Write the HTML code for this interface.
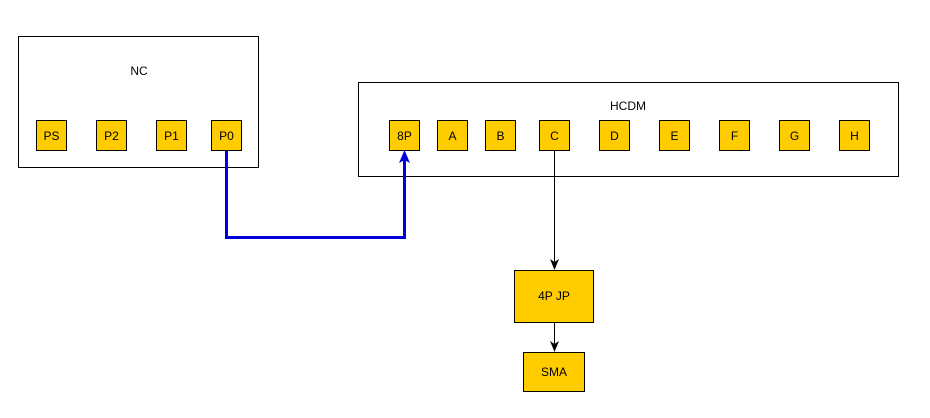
<!DOCTYPE html>
<html><head><meta charset="utf-8"><style>
html,body{margin:0;padding:0;background:#fff;}
svg{display:block;}
text{font-family:"Liberation Sans",Arial,sans-serif;font-size:12px;fill:#000;}
</style></head><body>
<svg width="930" height="418" viewBox="0 0 930 418" xmlns="http://www.w3.org/2000/svg">
<defs>
<marker id="ab" markerWidth="10" markerHeight="10" refX="5" refY="8" orient="auto" markerUnits="userSpaceOnUse" viewBox="0 0 10 10">
</marker>
</defs>
<rect x="18.5" y="36.5" width="240" height="131" fill="#fff" stroke="#000"/>
<text x="139" y="75" text-anchor="middle">NC</text>
<rect x="358.5" y="82.5" width="540" height="94" fill="#fff" stroke="#000"/>
<text x="628" y="110" text-anchor="middle">HCDM</text>
<g fill="#ffcc00" stroke="#000">
<rect x="36.5" y="120.5" width="30" height="30"/>
<rect x="96.5" y="120.5" width="30" height="30"/>
<rect x="156.5" y="120.5" width="30" height="30"/>
<rect x="211.5" y="120.5" width="30" height="30"/>
<rect x="389.5" y="120.5" width="30" height="30"/>
<rect x="437.5" y="120.5" width="30" height="30"/>
<rect x="485.5" y="120.5" width="30" height="30"/>
<rect x="539.5" y="120.5" width="30" height="30"/>
<rect x="599.5" y="120.5" width="30" height="30"/>
<rect x="659.5" y="120.5" width="30" height="30"/>
<rect x="719.5" y="120.5" width="30" height="30"/>
<rect x="779.5" y="120.5" width="30" height="30"/>
<rect x="839.5" y="120.5" width="30" height="30"/>
<rect x="514.5" y="270.5" width="79" height="52"/>
<rect x="523.5" y="352.5" width="61" height="39"/>
</g>
<g text-anchor="middle">
<text x="51.5" y="140">PS</text>
<text x="111.5" y="140">P2</text>
<text x="171.5" y="140">P1</text>
<text x="226.5" y="140">P0</text>
<text x="404.5" y="140">8P</text>
<text x="452.5" y="140">A</text>
<text x="500.5" y="140">B</text>
<text x="554.5" y="140">C</text>
<text x="614.5" y="140">D</text>
<text x="674.5" y="140">E</text>
<text x="734.5" y="140">F</text>
<text x="794.5" y="140">G</text>
<text x="854.5" y="140">H</text>
<text x="554" y="300">4P JP</text>
<text x="554" y="376">SMA</text>
</g>
<polyline points="226.5,151 226.5,237.5 404.5,237.5 404.5,158" fill="none" stroke="#0000dd" stroke-width="3"/>
<polygon points="404.5,150 399,163 404.5,160 410,163" fill="#0000dd"/>
<line x1="554.5" y1="151" x2="554.5" y2="264" stroke="#000"/>
<polygon points="554.5,270 550,259 554.5,262 559,259" fill="#000"/>
<line x1="554.5" y1="323" x2="554.5" y2="346" stroke="#000"/>
<polygon points="554.5,352 550,341 554.5,344 559,341" fill="#000"/>
</svg>
</body></html>
